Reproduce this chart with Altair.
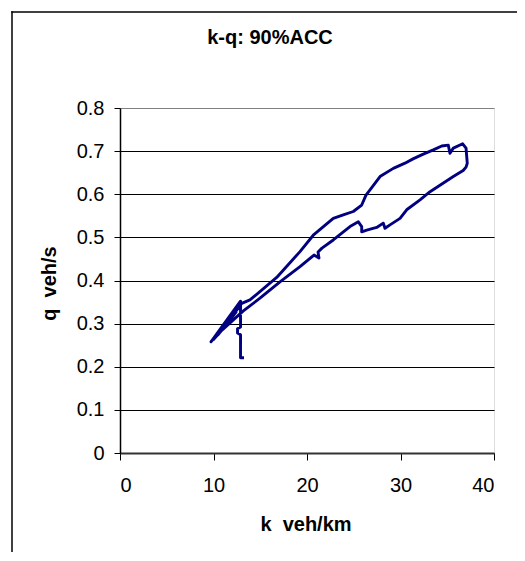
import altair as alt
import pandas as pd

# traced path of the k-q loop (in drawing order)
k_vals = [13.26, 12.89, 12.89, 12.57, 12.57, 12.89, 12.89, 9.73, 12.41, 10.48, 12.83, 10.2,
          13.02, 13.90, 16.76, 19.25, 20.67, 22.81, 23.88, 24.95, 25.85, 26.31, 26.74, 27.81,
          29.23, 30.48, 31.34, 32.44, 33.51, 34.41, 35.11, 35.29, 35.65, 36.65, 37.01, 37.14,
          37.01, 36.70, 35.65, 34.22, 33.16, 32.09, 30.66, 29.95, 28.88, 28.34, 28.16, 27.45,
          26.39, 25.85, 25.85, 25.49, 24.60, 22.81, 21.60, 21.18, 21.28, 20.75, 19.25, 17.11,
          14.97, 13.16, 12.09, 10.91, 9.95]
q_vals = [0.221, 0.221, 0.274, 0.278, 0.288, 0.292, 0.352, 0.258, 0.327, 0.274, 0.341, 0.268,
          0.347, 0.355, 0.407, 0.467, 0.505, 0.544, 0.552, 0.560, 0.575, 0.598, 0.610, 0.641,
          0.660, 0.672, 0.682, 0.693, 0.703, 0.712, 0.714, 0.695, 0.707, 0.717, 0.707, 0.672,
          0.663, 0.655, 0.641, 0.621, 0.606, 0.587, 0.564, 0.544, 0.529, 0.521, 0.533, 0.523,
          0.517, 0.513, 0.525, 0.536, 0.525, 0.494, 0.475, 0.466, 0.452, 0.459, 0.432, 0.397,
          0.359, 0.329, 0.308, 0.285, 0.262]

x_ticks = [0, 10, 20, 30, 40]
y_ticks = [0, 0.1, 0.2, 0.3, 0.4, 0.5, 0.6, 0.7, 0.8]
chart_title = "k-q: 90%ACC"

df = pd.DataFrame({"k": k_vals, "q": q_vals, "i": list(range(len(k_vals)))})

FONT = "Liberation Sans"

line = alt.Chart(df).mark_line(color="#000080", strokeWidth=2.9, strokeJoin="round").encode(
    x=alt.X("k:Q", scale=alt.Scale(domain=[0, 40], nice=False, zero=False),
            axis=alt.Axis(values=x_ticks, grid=False, tickSize=7, tickColor="black",
                          domainColor="#333333", domainWidth=2, labelFont=FONT,
                          labelFontSize=20, labelColor="black", labelPadding=15,
                          title="k \u00a0veh/km", titleFont=FONT, titleFontSize=20,
                          titleFontWeight="bold", titleColor="black", titleX=185.5,
                          titleY=77, titleBaseline="alphabetic")),
    y=alt.Y("q:Q", scale=alt.Scale(domain=[0, 0.8], nice=False),
            axis=alt.Axis(values=y_ticks, format="~g", grid=True,
                          gridColor={"condition": {"test": "datum.value >= 0.75", "value": "#808080"},
                                     "value": "black"},
                          gridWidth=1, tickSize=6, tickColor="black",
                          domainColor="black", domainWidth=1.5, labelFont=FONT,
                          labelFontSize=20, labelColor="black", labelPadding=10,
                          title="q \u00a0veh/s", titleFont=FONT, titleFontSize=20,
                          titleFontWeight="bold", titleColor="black", titleX=-64.5,
                          titleY=175, titleBaseline="alphabetic", titleAngle=-90)),
    order="i:Q",
)

title_mark = alt.Chart(alt.Data(values=[{"t": chart_title}])).mark_text(
    font=FONT, fontSize=20, fontWeight="bold", color="black", align="center",
    baseline="alphabetic"
).encode(text="t:N", x=alt.value(150), y=alt.value(-64))

# outer chart frame: only its left and top edges fall inside the picture
frame_left = alt.Chart(alt.Data(values=[{}])).mark_rule(color="black", strokeWidth=1.5).encode(
    x=alt.value(-108), y=alt.value(-96.75), y2=alt.value(444)
)
frame_top = alt.Chart(alt.Data(values=[{}])).mark_rule(color="black", strokeWidth=1.5).encode(
    x=alt.value(-108.75), x2=alt.value(397), y=alt.value(-96)
)

chart = alt.layer(line, title_mark, frame_left, frame_top).properties(
    width=374, height=345,
    autosize=alt.AutoSizeParams(type="none"),
    padding={"left": 112, "top": 100, "right": 23, "bottom": 100},
).configure_view(stroke="#808080", strokeWidth=2.5).configure(background="white")

chart.save("out.html", embed_options={"renderer": "svg", "actions": False})
